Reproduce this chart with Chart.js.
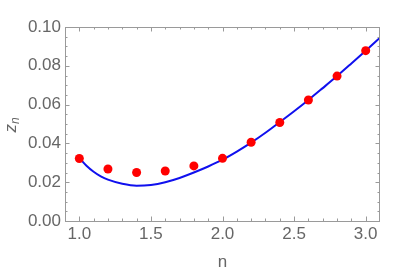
<!DOCTYPE html>
<html>
<head>
<meta charset="utf-8">
<script src="https://cdn.jsdelivr.net/npm/chart.js@4"></script>
<style>
  html, body { margin: 0; padding: 0; background: #fff; }
  #wrap { width: 409px; height: 274px; }
</style>
</head>
<body>
<div id="wrap"><canvas id="chart" width="409" height="274"></canvas></div>
<script>
// Data
const pointN = [1.0, 1.2, 1.4, 1.6, 1.8, 2.0, 2.2, 2.4, 2.6, 2.8, 3.0];
const pointZ = [0.0322, 0.0268, 0.0250, 0.0258, 0.0284, 0.0323, 0.0406, 0.0508, 0.0624, 0.0747, 0.0878];

const curveN = [1.0, 1.05, 1.1, 1.15, 1.2, 1.3, 1.4, 1.5, 1.6, 1.7, 1.8, 1.9, 2.0, 2.1, 2.2, 2.3, 2.4, 2.5, 2.6, 2.7, 2.8, 2.9, 3.0, 3.1];
const curveZ = [0.0325, 0.0285, 0.0254, 0.0230, 0.0213, 0.0192, 0.0182, 0.0186, 0.0200, 0.0222, 0.0250, 0.0281, 0.0316, 0.0358, 0.0404, 0.0455, 0.0510, 0.0566, 0.0624, 0.0685, 0.0747, 0.0812, 0.0878, 0.0945];

// Tick marks (major ones get labels)
const xMajorTicks = [1.0, 1.5, 2.0, 2.5, 3.0];
const xMinorTicks = [1.1, 1.2, 1.3, 1.4, 1.6, 1.7, 1.8, 1.9, 2.1, 2.2, 2.3, 2.4, 2.6, 2.7, 2.8, 2.9];
const yMajorTicks = [0.00, 0.02, 0.04, 0.06, 0.08, 0.10];
const yMinorTicks = [0.005, 0.01, 0.015, 0.025, 0.03, 0.035, 0.045, 0.05, 0.055, 0.065, 0.07, 0.075, 0.085, 0.09, 0.095];

const frameColor = '#9a9a9a';
const labelColor = '#666666';
const fontFamily = '"Liberation Sans", Arial, sans-serif';

// Frame with inward ticks on all four sides, plus axis labels
const framePlugin = {
    id: 'frame',
    afterDraw(chart) {
        const ctx = chart.ctx;
        const area = chart.chartArea;
        const xs = chart.scales.x;
        const ys = chart.scales.y;
        ctx.save();
        ctx.strokeStyle = frameColor;
        ctx.lineWidth = 1;
        ctx.strokeRect(area.left + 0.5, area.top + 0.5, area.right - area.left - 1, area.bottom - area.top);

        function xTick(v, len) {
            const px = Math.round(xs.getPixelForValue(v)) + 0.5;
            ctx.beginPath();
            ctx.moveTo(px, area.bottom); ctx.lineTo(px, area.bottom - len);
            ctx.moveTo(px, area.top); ctx.lineTo(px, area.top + len);
            ctx.stroke();
        }
        function yTick(v, len) {
            const py = Math.round(ys.getPixelForValue(v)) + 0.5;
            ctx.beginPath();
            ctx.moveTo(area.left, py); ctx.lineTo(area.left + len, py);
            ctx.moveTo(area.right, py); ctx.lineTo(area.right - len, py);
            ctx.stroke();
        }
        xMajorTicks.forEach(v => xTick(v, 4.5));
        xMinorTicks.forEach(v => xTick(v, 2.5));
        yMajorTicks.forEach(v => yTick(v, 4.5));
        yMinorTicks.forEach(v => yTick(v, 2.5));

        // x axis label
        ctx.fillStyle = labelColor;
        ctx.font = '17px ' + fontFamily;
        ctx.textAlign = 'center';
        ctx.textBaseline = 'alphabetic';
        ctx.fillText('n', (area.left + area.right) / 2, 267);

        // y axis label z_n, rotated
        ctx.translate(16, (area.top + area.bottom) / 2 + 1);
        ctx.rotate(-Math.PI / 2);
        ctx.textAlign = 'left';
        ctx.font = 'italic 17px ' + fontFamily;
        const zw = ctx.measureText('z').width;
        const nFont = 'italic 12px ' + fontFamily;
        ctx.font = nFont;
        const nw = ctx.measureText('n').width;
        const start = -(zw + nw) / 2;
        ctx.font = 'italic 17px ' + fontFamily;
        ctx.fillText('z', start, 0);
        ctx.font = nFont;
        ctx.fillText('n', start + zw, 3);
        ctx.restore();
    }
};

const ctx = document.getElementById('chart');

new Chart(ctx, {
    type: 'scatter',
    data: {
        datasets: [
            {
                type: 'line',
                label: 'fit',
                data: curveN.map((n, i) => ({ x: n, y: curveZ[i] })),
                borderColor: '#1010ee',
                borderWidth: 2,
                pointRadius: 0,
                cubicInterpolationMode: 'monotone',
                fill: false,
                order: 2
            },
            {
                label: 'points',
                data: pointN.map((n, i) => ({ x: n, y: pointZ[i] })),
                backgroundColor: '#ff0000',
                borderColor: '#ff0000',
                pointRadius: 4.5,
                pointBorderWidth: 0,
                order: 1
            }
        ]
    },
    options: {
        responsive: false,
        animation: false,
        devicePixelRatio: 1,
        layout: { padding: { left: 0, top: 27, right: 29, bottom: 0 } },
        plugins: {
            legend: { display: false },
            tooltip: { enabled: false }
        },
        scales: {
            x: {
                type: 'linear',
                min: 0.9,
                max: 3.1,
                grid: { display: false, drawTicks: false },
                border: { display: false },
                ticks: {
                    stepSize: 0.5,
                    includeBounds: false,
                    padding: 3,
                    color: labelColor,
                    font: { family: fontFamily, size: 17 },
                    callback: v => v.toFixed(1)
                },
                afterFit(scale) { scale.height = 53; }
            },
            y: {
                type: 'linear',
                min: 0,
                max: 0.1,
                grid: { display: false, drawTicks: false },
                border: { display: false },
                ticks: {
                    stepSize: 0.02,
                    padding: 4,
                    color: labelColor,
                    font: { family: fontFamily, size: 17 },
                    callback: v => v.toFixed(2)
                },
                afterFit(scale) { scale.width = 65; }
            }
        }
    },
    plugins: [framePlugin]
});
</script>
</body>
</html>
